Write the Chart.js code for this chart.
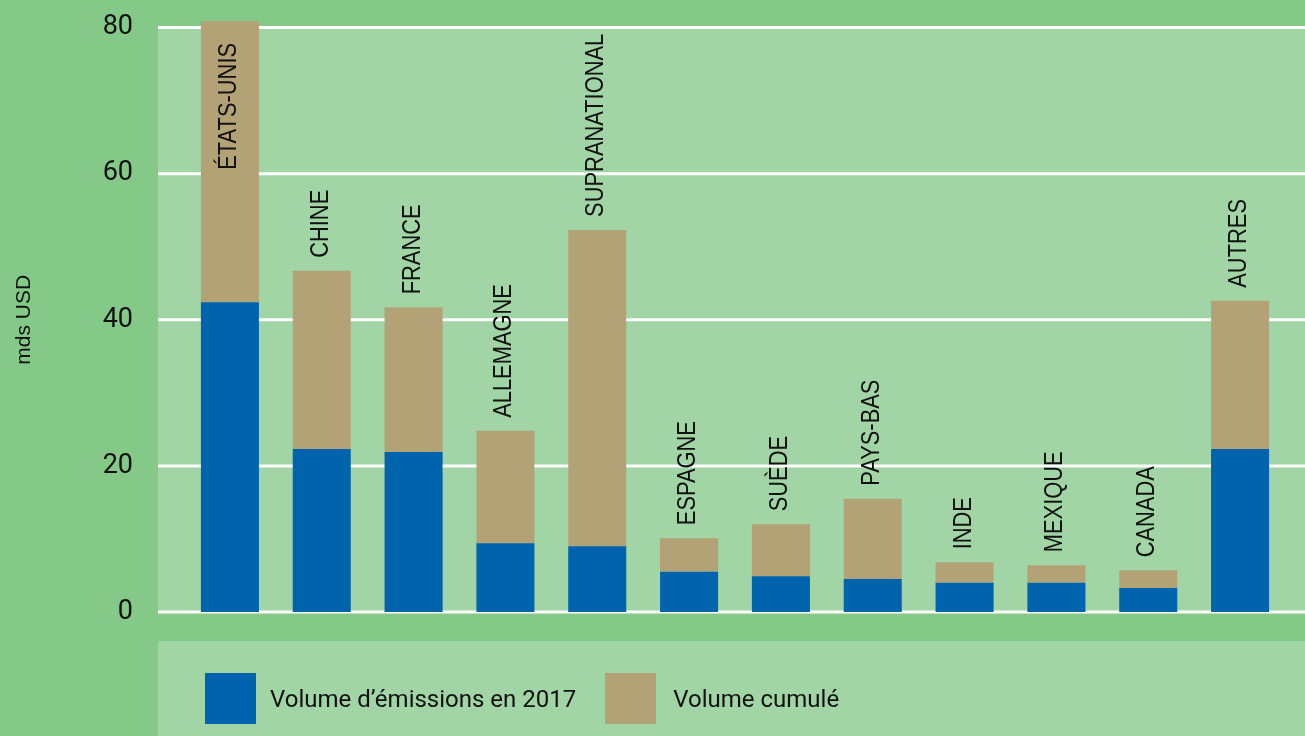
<!DOCTYPE html>
<html lang="fr">
<head>
<meta charset="utf-8">
<title>Volume d'émissions par pays</title>
<script src="https://cdn.jsdelivr.net/npm/chart.js@4.4.1/dist/chart.umd.min.js"></script>
<style>
  html, body { margin: 0; padding: 0; background: #84c987; }
  #wrap { position: relative; width: 1305px; height: 736px; overflow: hidden; }
  #legend {
    position: absolute; left: 205px; top: 673px; height: 51px;
    display: flex; align-items: center;
    font-family: Roboto, sans-serif; font-size: 24px; color: #111;
  }
  #legend .box { width: 51px; height: 51px; }
  #legend .txt1 { margin-left: 14px; margin-right: 29px; }
  #legend .txt2 { margin-left: 17px; }
</style>
</head>
<body>
<div id="wrap">
  <canvas id="chart"></canvas>
  <div id="legend"></div>
</div>
<script>
// Données (mds USD)
const pays = ['ÉTATS-UNIS', 'CHINE', 'FRANCE', 'ALLEMAGNE', 'SUPRANATIONAL', 'ESPAGNE',
              'SUÈDE', 'PAYS-BAS', 'INDE', 'MEXIQUE', 'CANADA', 'AUTRES'];
const emissions2017 = [42.4, 22.3, 21.9, 9.4, 9.0, 5.5, 4.9, 4.5, 4.0, 4.0, 3.3, 22.3];
const volumeCumule  = [80.9, 46.7, 41.7, 24.8, 52.3, 10.1, 12.0, 15.5, 6.8, 6.4, 5.7, 42.6];
const yTicks = [0, 20, 40, 60, 80];

const BLEU = '#0063ad';
const BEIGE = '#b4a277';
const VERT_CLAIR = '#a1d5a5';
const VERT_FONCE = '#84c987';

// partie beige = cumul - émissions de l'année
const reste = volumeCumule.map((v, i) => +(v - emissions2017[i]).toFixed(1));

// Fonds, grille et étiquettes des barres
const decorPlugin = {
    id: 'decor',
    beforeDraw(chart) {
        const { ctx, width, height, scales: { y } } = chart;
        ctx.save();
        ctx.fillStyle = VERT_FONCE;
        ctx.fillRect(0, 0, width, height);
        const top = y.getPixelForValue(80);
        const bottom = y.getPixelForValue(0);
        ctx.fillStyle = VERT_CLAIR;
        ctx.fillRect(158, top, width - 158, bottom - top);
        ctx.fillRect(158, 641, width - 158, height - 641);
        ctx.restore();
    },
    beforeDatasetsDraw(chart) {
        const { ctx, width, scales: { y } } = chart;
        ctx.save();
        ctx.strokeStyle = '#ffffff';
        ctx.lineWidth = 3;
        yTicks.forEach(v => {
            const py = y.getPixelForValue(v);
            ctx.beginPath();
            ctx.moveTo(158, py);
            ctx.lineTo(width, py);
            ctx.stroke();
        });
        ctx.restore();
    },
    afterDatasetsDraw(chart) {
        const { ctx } = chart;
        const meta = chart.getDatasetMeta(1);
        const squeeze = 0.875;
        ctx.save();
        ctx.font = '25px "Liberation Sans", Arial, sans-serif';
        ctx.fillStyle = '#111';
        ctx.textBaseline = 'alphabetic';
        meta.data.forEach((bar, i) => {
            const label = pays[i];
            const w = ctx.measureText(label).width * squeeze;
            const barTop = bar.y;
            const inside = barTop - 13 - w < 17;
            ctx.save();
            ctx.translate(bar.x + 6, inside ? barTop + 22 : barTop - 13);
            ctx.rotate(-Math.PI / 2);
            ctx.scale(squeeze, 1);
            ctx.textAlign = inside ? 'right' : 'left';
            ctx.fillText(label, 0, 0);
            ctx.restore();
        });
        ctx.restore();
    }
};

const chart = new Chart(document.getElementById('chart'), {
    type: 'bar',
    data: {
        labels: pays,
        datasets: [
            {
                label: 'Volume d’émissions en 2017',
                data: emissions2017,
                backgroundColor: BLEU,
                categoryPercentage: 1,
                barPercentage: 0.632,
                clip: false
            },
            {
                label: 'Volume cumulé',
                data: reste,
                backgroundColor: BEIGE,
                categoryPercentage: 1,
                barPercentage: 0.632,
                clip: false
            }
        ]
    },
    options: {
        responsive: true,
        maintainAspectRatio: false,
        animation: false,
        layout: { padding: { left: 0, right: 19, top: 27.5, bottom: 124 } },
        plugins: {
            legend: { display: false },
            tooltip: { enabled: false }
        },
        scales: {
            x: {
                stacked: true,
                display: false
            },
            y: {
                stacked: true,
                min: 0,
                max: 80,
                afterFit(scale) { scale.width = 184; },
                afterBuildTicks(scale) { scale.ticks = yTicks.map(v => ({ value: v })); },
                // les traits de graduation ne sont pas dessinés, seulement l'écart
                grid: { display: false, drawTicks: true, tickLength: 51 },
                border: { display: false },
                ticks: {
                    padding: 0,
                    color: '#111',
                    font: { family: 'Roboto, sans-serif', size: 27 }
                },
                title: {
                    display: true,
                    text: 'mds USD',
                    color: '#111',
                    padding: { top: 12, bottom: 0 },
                    font: { family: '"Liberation Sans", Arial, sans-serif', size: 21 }
                }
            }
        }
    },
    plugins: [decorPlugin]
});

// Légende
const legend = document.getElementById('legend');
chart.data.datasets.forEach((ds, i) => {
    const box = document.createElement('div');
    box.className = 'box';
    box.style.background = ds.backgroundColor;
    const txt = document.createElement('span');
    txt.className = i === 0 ? 'txt1' : 'txt2';
    txt.textContent = ds.label;
    legend.appendChild(box);
    legend.appendChild(txt);
});
</script>
</body>
</html>
